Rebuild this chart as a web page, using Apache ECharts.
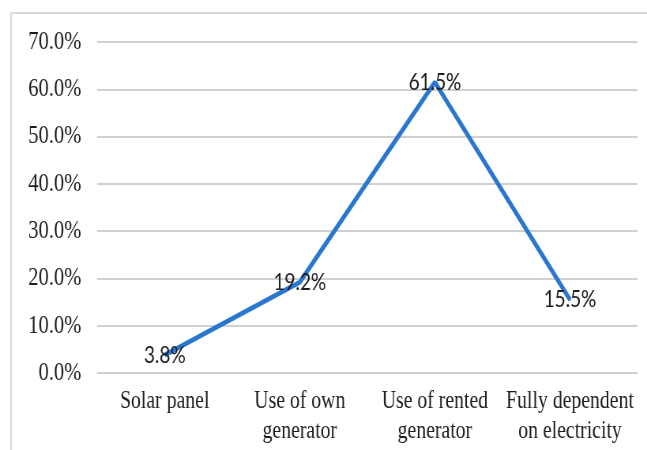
<!DOCTYPE html>
<html>
<head>
<meta charset="utf-8">
<script src="https://cdn.jsdelivr.net/npm/echarts@6/dist/echarts.min.js"></script>
<style>
  html, body { margin: 0; padding: 0; background: #fff; overflow: hidden; }
  /* Chart is laid out wider and condensed horizontally so the lettering is narrow */
  #chart { width: 819px; height: 450px; transform: scaleX(0.79); transform-origin: 0 0; }
</style>
</head>
<body>
<div id="chart"></div>
<script>
// Power sources used, share of respondents (%)
const categories = ['Solar panel', 'Use of own\ngenerator', 'Use of rented\ngenerator', 'Fully dependent\non electricity'];
const shares = [3.8, 19.2, 61.5, 15.5];
const yTicks = { min: 0, max: 70, step: 10 };

const chart = echarts.init(document.getElementById('chart'), null, { renderer: 'canvas' });

chart.setOption({
  animation: false,
  backgroundColor: '#ffffff',
  graphic: [{
    type: 'rect',
    shape: { x: 14, y: 13, width: 840, height: 460 },
    style: { fill: 'none', stroke: '#d9d9d9', lineWidth: 2 }
  }],
  grid: { left: 123, right: 12, top: 42, bottom: 77 },
  xAxis: {
    type: 'category',
    data: categories,
    boundaryGap: true,
    axisLine: { show: false },
    axisTick: { show: false },
    axisLabel: {
      color: '#1e1e1e',
      fontFamily: 'Liberation Serif',
      fontSize: 25,
      lineHeight: 30,
      margin: 13,
      interval: 0
    }
  },
  yAxis: {
    type: 'value',
    min: yTicks.min,
    max: yTicks.max,
    interval: yTicks.step,
    axisLine: { show: false },
    axisTick: { show: false },
    splitLine: { lineStyle: { color: '#d0d0d0', width: 2 } },
    axisLabel: {
      color: '#1e1e1e',
      fontFamily: 'Liberation Serif',
      fontSize: 26,
      margin: 20,
      formatter: v => v.toFixed(1) + '%'
    }
  },
  series: [{
    type: 'line',
    data: shares,
    symbol: 'circle',
    symbolSize: 2,
    showSymbol: true,
    itemStyle: { color: '#2a77d0' },
    lineStyle: { color: '#2a77d0', width: 5 },
    label: {
      show: true,
      position: 'inside',
      offset: [0, 3],
      color: '#1e1e1e',
      fontFamily: 'Lato, sans-serif',
      fontSize: 24,
      formatter: p => p.value.toFixed(1) + '%'
    },
    labelLayout: { hideOverlap: false }
  }]
});
</script>
</body>
</html>
